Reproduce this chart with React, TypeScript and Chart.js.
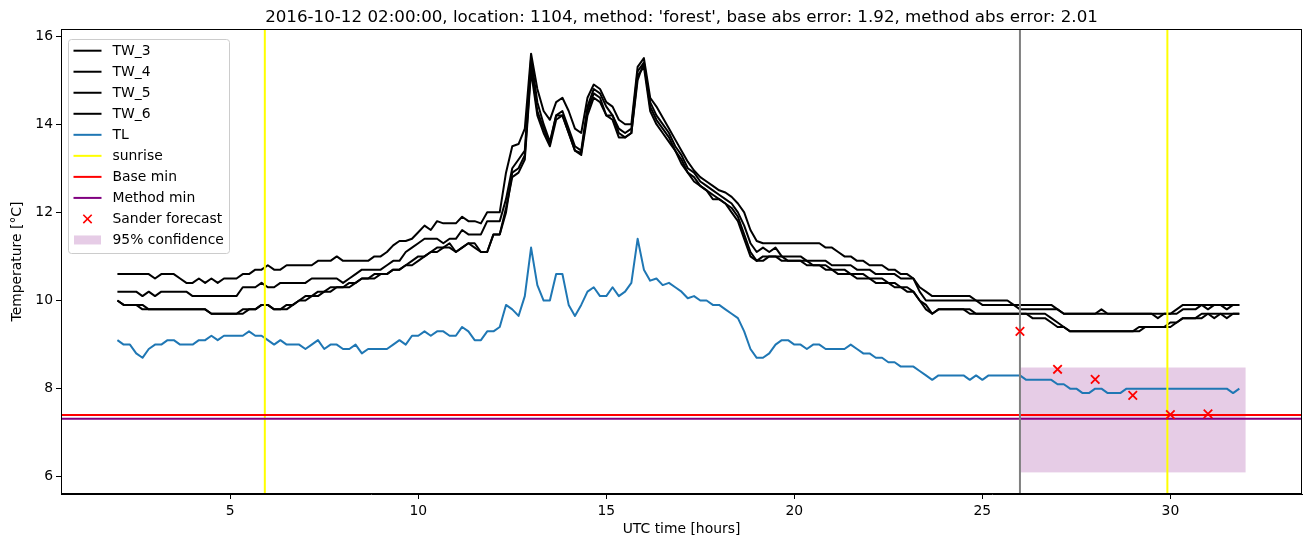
import { useEffect, useRef } from "react";
import { Chart, registerables } from "chart.js";

Chart.register(...registerables);

// ---------------- data ----------------
const TIME_START = 2; // hours
const STEP_HOURS = 1 / 6; // 10-minute samples

const TL = [
  9.1, 9.0, 9.0, 8.8, 8.7, 8.9,
  9.0, 9.0, 9.1, 9.1, 9.0, 9.0,
  9.0, 9.1, 9.1, 9.2, 9.1, 9.2,
  9.2, 9.2, 9.2, 9.3, 9.2, 9.2,
  9.1, 9.0, 9.1, 9.0, 9.0, 9.0,
  8.9, 9.0, 9.1, 8.9, 9.0, 9.0,
  8.9, 8.9, 9.0, 8.8, 8.9, 8.9,
  8.9, 8.9, 9.0, 9.1, 9.0, 9.2,
  9.2, 9.3, 9.2, 9.3, 9.3, 9.2,
  9.2, 9.4, 9.3, 9.1, 9.1, 9.3,
  9.3, 9.4, 9.9, 9.8, 9.65, 10.1,
  11.2, 10.35, 10.0, 10.0, 10.6, 10.6,
  9.9, 9.65, 9.9, 10.2, 10.3, 10.1,
  10.1, 10.3, 10.1, 10.2, 10.4, 11.4,
  10.7, 10.45, 10.5, 10.35, 10.4, 10.3,
  10.2, 10.05, 10.1, 10.0, 10.0, 9.9,
  9.9, 9.8, 9.7, 9.6, 9.3, 8.9,
  8.7, 8.7, 8.8, 9.0, 9.1, 9.1,
  9.0, 9.0, 8.9, 9.0, 9.0, 8.9,
  8.9, 8.9, 8.9, 9.0, 8.9, 8.8,
  8.8, 8.7, 8.7, 8.6, 8.6, 8.5,
  8.5, 8.5, 8.4, 8.3, 8.2, 8.3,
  8.3, 8.3, 8.3, 8.3, 8.2, 8.3,
  8.2, 8.3, 8.3, 8.3, 8.3, 8.3,
  8.3, 8.2, 8.2, 8.2, 8.2, 8.2,
  8.1, 8.1, 8.0, 8.0, 7.9, 7.9,
  8.0, 8.0, 7.9, 7.9, 7.9, 8.0,
  8.0, 8.0, 8.0, 8.0, 8.0, 8.0,
  8.0, 8.0, 8.0, 8.0, 8.0, 8.0,
  8.0, 8.0, 8.0, 8.0, 7.9, 8.0,
];

const TW_3 = [
  10.6, 10.6, 10.6, 10.6, 10.6, 10.6,
  10.5, 10.6, 10.6, 10.6, 10.5, 10.4,
  10.4, 10.5, 10.4, 10.5, 10.4, 10.5,
  10.5, 10.5, 10.6, 10.6, 10.7, 10.7,
  10.8, 10.7, 10.7, 10.8, 10.8, 10.8,
  10.8, 10.8, 10.9, 10.9, 10.9, 11.0,
  10.9, 10.9, 10.9, 10.9, 10.9, 11.0,
  11.0, 11.1, 11.25, 11.35, 11.35, 11.4,
  11.55, 11.7, 11.6, 11.8, 11.75, 11.75,
  11.75, 11.9, 11.8, 11.8, 11.75, 12.0,
  12.0, 12.0, 12.9, 13.5, 13.55, 13.9,
  15.6, 14.8, 14.3, 14.1, 14.5, 14.6,
  14.3, 13.9, 13.8, 14.6, 14.9, 14.8,
  14.5, 14.4, 14.1, 14.0, 14.0, 15.3,
  15.5, 14.6, 14.4, 14.15, 13.9, 13.65,
  13.4, 13.15, 12.95, 12.8, 12.7, 12.6,
  12.5, 12.45, 12.35, 12.2, 12.0, 11.6,
  11.35, 11.3, 11.3, 11.3, 11.3, 11.3,
  11.3, 11.3, 11.3, 11.3, 11.3, 11.2,
  11.2, 11.1, 11.0, 11.0, 10.9, 10.9,
  10.8, 10.8, 10.8, 10.7, 10.7, 10.6,
  10.6, 10.5, 10.3, 10.2, 10.1, 10.1,
  10.1, 10.1, 10.1, 10.1, 10.1, 10.0,
  10.0, 10.0, 10.0, 10.0, 10.0, 9.9,
  9.9, 9.9, 9.9, 9.9, 9.9, 9.9,
  9.8, 9.7, 9.7, 9.7, 9.7, 9.7,
  9.7, 9.8, 9.7, 9.7, 9.7, 9.7,
  9.7, 9.7, 9.7, 9.7, 9.6, 9.7,
  9.7, 9.8, 9.9, 9.9, 9.9, 9.9,
  9.8, 9.9, 9.9, 9.9, 9.9, 9.9,
];

const TW_4 = [
  10.2, 10.2, 10.2, 10.2, 10.1, 10.2,
  10.1, 10.2, 10.2, 10.2, 10.2, 10.2,
  10.1, 10.1, 10.1, 10.1, 10.1, 10.1,
  10.1, 10.1, 10.3, 10.3, 10.3, 10.4,
  10.3, 10.3, 10.4, 10.4, 10.4, 10.4,
  10.4, 10.5, 10.5, 10.5, 10.5, 10.5,
  10.4, 10.5, 10.6, 10.7, 10.7, 10.7,
  10.7, 10.8, 10.9, 10.9, 11.1, 11.2,
  11.3, 11.4, 11.4, 11.4, 11.3, 11.4,
  11.4, 11.6, 11.5, 11.5, 11.5, 11.8,
  11.8, 11.8, 12.3, 13.0, 13.2, 13.4,
  15.5, 14.5, 14.0, 13.6, 14.2, 14.3,
  13.9, 13.5, 13.4, 14.4, 14.8, 14.7,
  14.4, 14.2, 13.9, 13.8, 13.9, 15.2,
  15.4, 14.5, 14.2, 14.0, 13.8, 13.5,
  13.3, 13.0, 12.9, 12.7, 12.6, 12.5,
  12.4, 12.3, 12.2, 12.0, 11.7, 11.3,
  11.1, 11.2, 11.1, 11.2, 11.0, 11.0,
  11.0, 11.0, 10.9, 10.9, 10.9, 10.9,
  10.8, 10.8, 10.8, 10.8, 10.7, 10.7,
  10.7, 10.6, 10.6, 10.6, 10.6, 10.5,
  10.5, 10.5, 10.2, 10.0, 10.0, 10.0,
  10.0, 10.0, 10.0, 10.0, 10.0, 10.0,
  9.9, 9.9, 9.9, 9.9, 9.9, 9.9,
  9.8, 9.8, 9.8, 9.8, 9.8, 9.8,
  9.8, 9.7, 9.7, 9.7, 9.7, 9.7,
  9.7, 9.7, 9.7, 9.7, 9.7, 9.7,
  9.7, 9.7, 9.7, 9.7, 9.7, 9.7,
  9.7, 9.7, 9.8, 9.8, 9.8, 9.9,
  9.9, 9.9, 9.9, 9.8, 9.9, 9.9,
];

const TW_5 = [
  10.0, 9.9, 9.9, 9.9, 9.9, 9.8,
  9.8, 9.8, 9.8, 9.8, 9.8, 9.8,
  9.8, 9.8, 9.8, 9.7, 9.7, 9.7,
  9.7, 9.7, 9.8, 9.8, 9.8, 9.9,
  9.9, 9.8, 9.8, 9.9, 9.9, 10.0,
  10.1, 10.1, 10.2, 10.2, 10.3, 10.3,
  10.3, 10.4, 10.4, 10.5, 10.5, 10.6,
  10.6, 10.6, 10.7, 10.7, 10.8, 10.9,
  11.0, 11.0, 11.1, 11.2, 11.2, 11.3,
  11.1, 11.2, 11.3, 11.3, 11.1, 11.1,
  11.5, 11.5, 12.0, 12.9, 13.0, 13.3,
  15.3, 14.3, 13.9, 13.55, 14.2, 14.2,
  13.8, 13.4, 13.35, 14.3, 14.7, 14.6,
  14.2, 14.2, 13.8, 13.7, 13.8, 15.0,
  15.4, 14.4, 14.1, 13.9, 13.7, 13.4,
  13.2, 12.9, 12.8, 12.6, 12.5, 12.4,
  12.3, 12.2, 12.1, 11.9, 11.5, 11.1,
  10.9, 11.0, 11.0, 11.0, 11.0, 10.9,
  10.9, 10.9, 10.9, 10.8, 10.8, 10.8,
  10.7, 10.7, 10.7, 10.6, 10.6, 10.6,
  10.5, 10.5, 10.5, 10.4, 10.4, 10.3,
  10.3, 10.2, 10.0, 9.9, 9.7, 9.8,
  9.8, 9.8, 9.8, 9.8, 9.8, 9.7,
  9.7, 9.7, 9.7, 9.7, 9.7, 9.7,
  9.7, 9.7, 9.7, 9.7, 9.7, 9.6,
  9.5, 9.4, 9.3, 9.3, 9.3, 9.3,
  9.3, 9.3, 9.3, 9.3, 9.3, 9.3,
  9.3, 9.3, 9.4, 9.4, 9.4, 9.4,
  9.4, 9.5, 9.6, 9.6, 9.6, 9.6,
  9.7, 9.7, 9.7, 9.6, 9.7, 9.7,
];

const TW_6 = [
  10.0, 9.9, 9.9, 9.9, 9.8, 9.8,
  9.8, 9.8, 9.8, 9.8, 9.8, 9.8,
  9.8, 9.8, 9.8, 9.7, 9.7, 9.7,
  9.7, 9.7, 9.7, 9.8, 9.8, 9.9,
  9.9, 9.8, 9.8, 9.8, 9.9, 10.0,
  10.0, 10.1, 10.1, 10.2, 10.2, 10.3,
  10.3, 10.3, 10.4, 10.5, 10.5, 10.5,
  10.6, 10.6, 10.7, 10.7, 10.8, 10.8,
  10.9, 11.0, 11.1, 11.1, 11.2, 11.2,
  11.1, 11.2, 11.3, 11.2, 11.1, 11.1,
  11.5, 11.5, 12.1, 12.8, 12.9, 13.2,
  15.2, 14.2, 13.8, 13.5, 14.1, 14.2,
  13.8, 13.4, 13.3, 14.2, 14.6, 14.5,
  14.2, 14.1, 13.7, 13.7, 13.8, 15.1,
  15.3, 14.3, 14.0, 13.8, 13.6, 13.4,
  13.1, 12.9, 12.7, 12.6, 12.5, 12.3,
  12.3, 12.2, 12.0, 11.8, 11.4, 11.0,
  10.9, 10.9, 11.0, 11.0, 10.9, 10.9,
  10.9, 10.9, 10.8, 10.8, 10.8, 10.7,
  10.7, 10.6, 10.6, 10.6, 10.5, 10.5,
  10.5, 10.4, 10.4, 10.4, 10.3, 10.3,
  10.2, 10.2, 10.0, 9.8, 9.7, 9.8,
  9.8, 9.8, 9.8, 9.8, 9.7, 9.7,
  9.7, 9.7, 9.7, 9.7, 9.7, 9.7,
  9.7, 9.7, 9.6, 9.6, 9.6, 9.5,
  9.4, 9.4, 9.3, 9.3, 9.3, 9.3,
  9.3, 9.3, 9.3, 9.3, 9.3, 9.3,
  9.3, 9.4, 9.4, 9.4, 9.4, 9.4,
  9.5, 9.5, 9.6, 9.6, 9.6, 9.7,
  9.7, 9.6, 9.7, 9.7, 9.7, 9.7,
];

const SANDER_HOURS = [26, 27, 28, 29, 30, 31];
const SANDER_VALUES = [9.3, 8.44, 8.21, 7.85, 7.41, 7.43];

const SUNRISE_HOURS = [5.92, 29.92];
const FORECAST_START = 26;
const BASE_MIN = 7.4;
const METHOD_MIN = 7.32;
const CONF_HOURS = [26, 32];
const CONF_LOW = 6.1;
const CONF_HIGH = 8.48;

const X_TICKS = [5, 10, 15, 20, 25, 30];
const Y_TICKS = [6, 8, 10, 12, 14, 16];
const X_RANGE = [0.5, 33.5];
const Y_RANGE = [5.61, 16.16];

const TITLE =
  "2016-10-12 02:00:00, location: 1104, method: 'forest', base abs error: 1.92, method abs error: 2.01";
const X_LABEL = "UTC time [hours]";
const Y_LABEL = "Temperature [°C]";

// ---------------- styles ----------------
const FONT = '"DejaVu Sans", sans-serif';
const BLUE = "#1f77b4";
const BLACK = "#000000";
const YELLOW = "#ffff00";
const RED = "#ff0000";
const PURPLE = "#800080";
const GRAY = "#808080";
const BAND = "rgba(128,0,128,0.2)";

const toPoints = (vals: number[]) =>
  vals.map((v, i) => ({ x: TIME_START + i * STEP_HOURS, y: v }));

const LEGEND_ITEMS = [
  { label: "TW_3", kind: "line", color: BLACK },
  { label: "TW_4", kind: "line", color: BLACK },
  { label: "TW_5", kind: "line", color: BLACK },
  { label: "TW_6", kind: "line", color: BLACK },
  { label: "TL", kind: "line", color: BLUE },
  { label: "sunrise", kind: "line", color: YELLOW },
  { label: "Base min", kind: "line", color: RED },
  { label: "Method min", kind: "line", color: PURPLE },
  { label: "Sander forecast", kind: "marker", color: RED },
  { label: "95% confidence", kind: "patch", color: BAND },
];

const overlayPlugin = {
  id: "overlay",
  beforeDatasetsDraw(chart: any) {
    const { ctx, chartArea: a, scales } = chart;
    const xs = scales.x, ys = scales.y;
    ctx.save();
    ctx.beginPath();
    ctx.rect(a.left, a.top, a.right - a.left, a.bottom - a.top);
    ctx.clip();
    const x0 = xs.getPixelForValue(CONF_HOURS[0]);
    const x1 = xs.getPixelForValue(CONF_HOURS[1]);
    const y0 = ys.getPixelForValue(CONF_HIGH);
    const y1 = ys.getPixelForValue(CONF_LOW);
    ctx.fillStyle = BAND;
    ctx.fillRect(x0, y0, x1 - x0, y1 - y0);
    ctx.restore();
  },
  afterDatasetDraw(chart: any, args: any) {
    if (args.index !== 4) return; // after TL, before forecast markers
    const { ctx, chartArea: a, scales } = chart;
    const xs = scales.x, ys = scales.y;
    ctx.save();
    ctx.beginPath();
    ctx.rect(a.left, a.top, a.right - a.left, a.bottom - a.top);
    ctx.clip();
    ctx.lineWidth = 2;
    const vline = (v: number, c: string) => {
      const x = xs.getPixelForValue(v);
      ctx.strokeStyle = c;
      ctx.beginPath();
      ctx.moveTo(x, a.top);
      ctx.lineTo(x, a.bottom);
      ctx.stroke();
    };
    const hline = (v: number, c: string) => {
      const y = ys.getPixelForValue(v);
      ctx.strokeStyle = c;
      ctx.beginPath();
      ctx.moveTo(a.left, y);
      ctx.lineTo(a.right, y);
      ctx.stroke();
    };
    SUNRISE_HOURS.forEach((h) => vline(h, YELLOW));
    hline(BASE_MIN, RED);
    hline(METHOD_MIN, PURPLE);
    vline(FORECAST_START, GRAY);
    ctx.restore();
  },
  afterDraw(chart: any) {
    const { ctx, chartArea: a } = chart;
    ctx.save();
    // spines
    ctx.strokeStyle = BLACK;
    ctx.lineWidth = 1;
    ctx.strokeRect(a.left + 0.5, a.top + 0.5, a.right - a.left - 1, a.bottom - a.top - 1);

    const cx = (a.left + a.right) / 2;
    ctx.fillStyle = BLACK;
    ctx.textAlign = "center";
    ctx.textBaseline = "middle";
    ctx.font = `16.7px ${FONT}`;
    ctx.fillText(TITLE, cx, 17.5);
    ctx.font = `13.9px ${FONT}`;
    ctx.fillText(X_LABEL, cx, 529);
    ctx.save();
    ctx.translate(17.5, (a.top + a.bottom) / 2);
    ctx.rotate(-Math.PI / 2);
    ctx.fillText(Y_LABEL, 0, 0);
    ctx.restore();

    // legend
    const lx = 68.5, ly = 39.5, lw = 161, lh = 214, r = 3;
    ctx.beginPath();
    ctx.moveTo(lx + r, ly);
    ctx.lineTo(lx + lw - r, ly);
    ctx.quadraticCurveTo(lx + lw, ly, lx + lw, ly + r);
    ctx.lineTo(lx + lw, ly + lh - r);
    ctx.quadraticCurveTo(lx + lw, ly + lh, lx + lw - r, ly + lh);
    ctx.lineTo(lx + r, ly + lh);
    ctx.quadraticCurveTo(lx, ly + lh, lx, ly + lh - r);
    ctx.lineTo(lx, ly + r);
    ctx.quadraticCurveTo(lx, ly, lx + r, ly);
    ctx.closePath();
    ctx.fillStyle = "rgba(255,255,255,0.8)";
    ctx.fill();
    ctx.strokeStyle = "#cccccc";
    ctx.lineWidth = 1;
    ctx.stroke();

    ctx.textAlign = "left";
    ctx.font = `13.9px ${FONT}`;
    LEGEND_ITEMS.forEach((it, i) => {
      const y = 50.7 + i * 21.03;
      if (it.kind === "line") {
        ctx.strokeStyle = it.color;
        ctx.lineWidth = 2;
        ctx.beginPath();
        ctx.moveTo(73.5, y);
        ctx.lineTo(101.5, y);
        ctx.stroke();
      } else if (it.kind === "marker") {
        ctx.strokeStyle = it.color;
        ctx.lineWidth = 1.6;
        const m = 4.2;
        ctx.beginPath();
        ctx.moveTo(87.5 - m, y - m);
        ctx.lineTo(87.5 + m, y + m);
        ctx.moveTo(87.5 - m, y + m);
        ctx.lineTo(87.5 + m, y - m);
        ctx.stroke();
      } else {
        ctx.fillStyle = it.color;
        ctx.fillRect(74, y - 4.5, 27, 9);
      }
      ctx.fillStyle = BLACK;
      ctx.fillText(it.label, 112.5, y + 0.5);
    });
    ctx.restore();
  },
};

const lineDs = (label: string, vals: number[], color: string, order: number) => ({
  label,
  data: toPoints(vals),
  borderColor: color,
  backgroundColor: color,
  borderWidth: 2,
  pointRadius: 0,
  tension: 0,
  fill: false,
  order,
  borderJoinStyle: "round" as const,
});

export default function App() {
  const ref = useRef<HTMLCanvasElement>(null);
  useEffect(() => {
    document.body.style.margin = "0";
    const tickFont = { family: FONT, size: 13.9 };
    const axisCommon = {
      type: "linear" as const,
      grid: {
        drawOnChartArea: false,
        drawTicks: true,
        tickLength: 5,
        color: BLACK,
        lineWidth: 1,
      },
      border: { display: true, color: BLACK, width: 1 },
    };
    const chart = new Chart(ref.current!, {
      type: "line",
      data: {
        datasets: [
          lineDs("TW_3", TW_3, BLACK, 10),
          lineDs("TW_4", TW_4, BLACK, 9),
          lineDs("TW_5", TW_5, BLACK, 8),
          lineDs("TW_6", TW_6, BLACK, 7),
          lineDs("TL", TL, BLUE, 6),
          {
            label: "Sander forecast",
            data: SANDER_HOURS.map((h, i) => ({ x: h, y: SANDER_VALUES[i] })),
            showLine: false,
            pointStyle: "crossRot",
            pointRadius: 6,
            pointBorderWidth: 1.8,
            borderColor: RED,
            backgroundColor: RED,
            order: 1,
          } as any,
        ],
      },
      options: {
        animation: false,
        responsive: false,
        maintainAspectRatio: false,
        devicePixelRatio: 1,
        layout: { padding: { top: 29, right: 9, left: 0, bottom: 0 } },
        plugins: {
          legend: { display: false },
          title: { display: false },
          tooltip: { enabled: false },
        },
        scales: {
          x: {
            ...axisCommon,
            min: X_RANGE[0],
            max: X_RANGE[1],
            afterBuildTicks: (s: any) => {
              s.ticks = X_TICKS.map((v) => ({ value: v }));
            },
            afterFit: (s: any) => {
              s.height = 53;
            },
            ticks: {
              color: BLACK,
              font: tickFont,
              padding: 4,
              maxRotation: 0,
              autoSkip: false,
            },
          },
          y: {
            ...axisCommon,
            min: Y_RANGE[0],
            max: Y_RANGE[1],
            afterBuildTicks: (s: any) => {
              s.ticks = Y_TICKS.map((v) => ({ value: v }));
            },
            afterFit: (s: any) => {
              s.width = 61;
            },
            ticks: { color: BLACK, font: tickFont, padding: 3, autoSkip: false },
          },
        },
      } as any,
      plugins: [overlayPlugin],
    });
    return () => chart.destroy();
  }, []);
  return (
    <div style={{ width: 1311, height: 547 }}>
      <canvas ref={ref} width={1311} height={547} style={{ display: "block" }} />
    </div>
  );
}
